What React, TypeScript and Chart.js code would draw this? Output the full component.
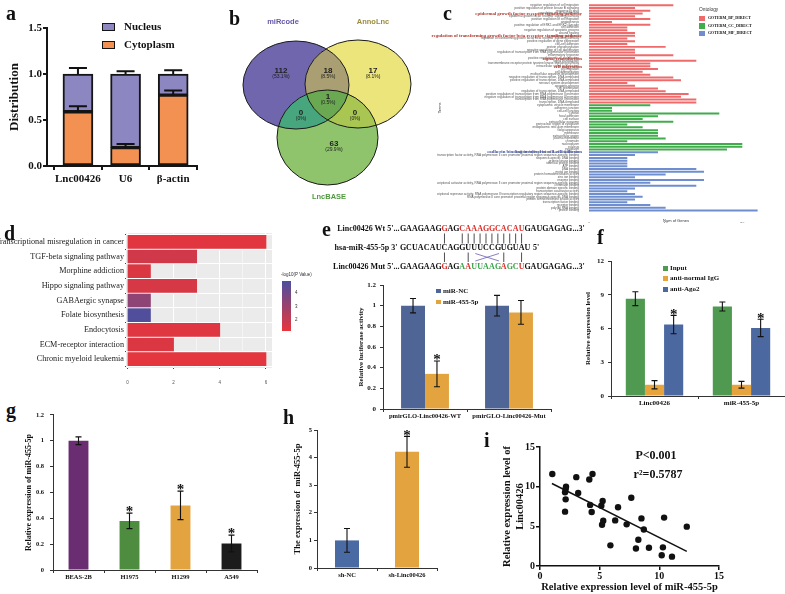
import React, { useEffect, useRef } from 'react';
import { Chart, registerables } from 'chart.js';

Chart.register(...registerables);

const SERIF = "'Liberation Serif', 'Times New Roman', Times, serif";
const SANS = "'Liberation Sans', Arial, Helvetica, sans-serif";

// ===================== DATA =====================
// (a) subcellular distribution
const aCategories = ['Lnc00426', 'U6', 'β-actin'];
const aCytoplasm = [0.59, 0.2, 0.77];
const aCytoplasmErr = [0.06, 0.04, 0.05];
const aNucleus = [0.41, 0.8, 0.23];
const aTotalErr = [0.065, 0.03, 0.04];

// (b) Venn
const vennSets = ['miRcode', 'AnnoLnc', 'LncBASE'];
// regions: A only, B only, C only, AB, AC, BC, ABC
const vennRegionCounts = [112, 17, 63, 18, 0, 0, 1];
const vennRegionPercents = ['53.1%', '8.1%', '29.9%', '8.5%', '0%', '0%', '0.5%'];

// (c) GO
const goOntologies = ['GOTERM_BP_DIRECT', 'GOTERM_CC_DIRECT', 'GOTERM_MF_DIRECT'];
const goBPTerms = [
  'negative regulation of cell migration',
  'positive regulation of protein kinase B signaling',
  'response to drug',
  'regulation of cell proliferation',
  'epidermal growth factor receptor signaling pathway',
  'positive regulation of cell migration',
  'angiogenesis',
  'positive regulation of ERK1 and ERK2 cascade',
  'cell adhesion',
  'negative regulation of apoptotic process',
  'wound healing',
  'response to hypoxia',
  'regulation of transforming growth factor beta receptor signaling pathway',
  'positive regulation of gene expression',
  'cell-cell adhesion',
  'protein phosphorylation',
  'negative regulation of cell proliferation',
  'regulation of transcription from RNA polymerase II promoter',
  'inflammatory response',
  'positive regulation of cell proliferation',
  'signal transduction',
  'transmembrane receptor protein tyrosine kinase signaling pathway',
  'intracellular signal transduction',
  'cell migration',
  'cell differentiation',
  'multicellular organism development',
  'negative regulation of transcription, DNA-templated',
  'positive regulation of transcription, DNA-templated',
  'nervous system development',
  'apoptotic process',
  'cell proliferation',
  'regulation of transcription, DNA-templated',
  'positive regulation of transcription from RNA polymerase II promoter',
  'negative regulation of transcription from RNA polymerase II promoter',
  'transcription from RNA polymerase II promoter',
  'transcription, DNA-templated',
];
const goBPCounts = [11, 6, 8, 7, 6, 8, 3, 8, 5, 5, 6, 6, 5, 6, 5, 10, 6, 6, 11, 6, 14, 8, 8, 9, 7, 8, 11, 12, 5, 6, 9, 10, 13, 12, 14, 14];
const goCCTerms = [
  'cytoplasmic vesicle membrane',
  'adherens junction',
  'cell-cell junction',
  'cytosol',
  'focal adhesion',
  'cell surface',
  'extracellular exosome',
  'perinuclear region of cytoplasm',
  'endoplasmic reticulum membrane',
  'Golgi apparatus',
  'membrane',
  'extracellular region',
  'plasma membrane',
  'chromatin',
  'nucleoplasm',
  'nucleus',
  'cytoplasm',
];
const goCCCounts = [8, 3, 3, 17, 9, 7, 11, 5, 7, 9, 9, 9, 10, 5, 20, 20, 18];
const goMFTerms = [
  'cadherin binding involved in cell-cell adhesion',
  'transcription factor activity, RNA polymerase II core promoter proximal region sequence-specific binding',
  'sequence-specific DNA binding',
  'protein kinase binding',
  'identical protein binding',
  'ATP binding',
  'DNA binding',
  'metal ion binding',
  'protein homodimerization activity',
  'zinc ion binding',
  'enzyme binding',
  'transcriptional activator activity, RNA polymerase II core promoter proximal region sequence-specific binding',
  'chromatin binding',
  'protein domain specific binding',
  'transcription coactivator activity',
  'transcriptional repressor activity, RNA polymerase II transcription regulatory region sequence-specific binding',
  'RNA polymerase II core promoter proximal region sequence-specific DNA binding',
  'protein serine/threonine kinase activity',
  'transcription factor binding',
  'receptor binding',
  'poly(A) RNA binding',
  'protein binding',
];
const goMFCounts = [9, 6, 5, 5, 5, 5, 14, 15, 10, 6, 15, 8, 14, 6, 5, 6, 7, 6, 5, 8, 10, 22];
const goHighlightBP = [
  'epidermal growth factor receptor signaling pathway',
  'regulation of transforming growth factor beta receptor signaling pathway',
  'signal transduction',
  'cell migration',
];
const goHighlightMF = ['cadherin binding involved in cell-cell adhesion'];

// (d) KEGG
const keggTerms = [
  'Transcriptional misregulation in cancer',
  'TGF-beta signaling pathway',
  'Morphine addiction',
  'Hippo signaling pathway',
  'GABAergic synapse',
  'Folate biosynthesis',
  'Endocytosis',
  'ECM-receptor interaction',
  'Chronic myeloid leukemia',
];
const keggCounts = [6, 3, 1, 3, 1, 1, 4, 2, 6];
const keggLogP = [1.35, 1.75, 1.5, 1.6, 3.3, 4.75, 1.4, 1.5, 1.3];
const keggBarTicks = [2, 3, 4];

// (e) luciferase
const eGroups = ['pmirGLO-Linc00426-WT', 'pmirGLO-Linc00426-Mut'];
const eSeries = ['miR-NC', 'miR-455-5p'];
const eMiRNC = [1.0, 1.0];
const eMiRNCErr = [0.07, 0.1];
const eMiR455 = [0.34, 0.935];
const eMiR455Err = [0.125, 0.115];
const eMiR455Star = [true, false];
const seqWtLabel = 'Linc00426 Wt';
const seqMiRLabel = 'hsa-miR-455-5p';
const seqMutLabel = 'Linc00426 Mut';
const seqWt = 'GAAGAAGGAGCAAAGGCACAUGAUGAGAG';
const seqMiR = 'GCUACAUCAGGUUUCCGUGUAU';
const seqMut = 'GAAGAAGGAGAAUUAAGAGCUGAUGAGAG';
const seqWtPairs = [7, 10, 11, 12, 13, 14, 15, 16, 17, 18, 19, 20];
const seqMutPairs = [7, 11, 17, 20];

// (f) RIP
const fGroups = ['Linc00426', 'miR-455-5p'];
const fSeries = ['Input', 'anti-normal IgG', 'anti-Ago2'];
const fInput = [8.65, 7.95];
const fInputErr = [0.62, 0.4];
const fIgG = [1.0, 1.0];
const fIgGErr = [0.37, 0.3];
const fAgo2 = [6.35, 6.05];
const fAgo2Err = [0.82, 0.77];
const fAgo2Star = [true, true];

// (g) cell lines
const gCells = ['BEAS-2B', 'H1975', 'H1299', 'A549'];
const gValues = [1.0, 0.38, 0.5, 0.205];
const gErrors = [0.03, 0.06, 0.11, 0.065];
const gStars = [false, true, true, true];

// (h) knockdown
const hGroups = ['sh-NC', 'sh-Linc00426'];
const hValues = [1.0, 4.21];
const hErrors = [0.43, 0.56];
const hStars = [false, true];

// (i) correlation
const iX = [1.03, 2.18, 2.15, 2.1, 2.15, 2.1, 3.04, 3.2, 4.13, 4.4, 4.2, 4.33, 5.14, 5.25, 5.3, 5.2, 6.3, 6.54, 5.9, 7.26, 7.65, 8.5, 8.7, 8.24, 8.04, 9.13, 10.4, 10.3, 10.2, 11.06, 12.3];
const iY = [11.6, 10.0, 9.7, 9.3, 8.4, 6.85, 11.2, 9.2, 10.9, 11.6, 7.7, 6.8, 7.6, 8.2, 5.7, 5.2, 5.75, 7.4, 2.6, 5.25, 8.6, 6.0, 4.6, 3.3, 2.2, 2.3, 6.1, 2.35, 1.35, 1.18, 4.96];
const iFitX = [1.0, 12.3];
const iFitY = [10.4, 1.85];
const iStats = ['P<0.001', 'r²=0.5787'];

// ===================== STYLE / LAYOUT =====================
const A_COLORS = ['#f39152', '#8c86c1'];
const VENN_FILL = ['#6f66ad', '#ebe57c', '#8fc46c'];
const VENN_PAIR_FILL = ['#aa9f72', '#47a67d', '#a8c651'];
const VENN_TRIPLE_FILL = '#6aa852';
const VENN_TITLE_COLORS = ['#6357a8', '#9a8c3c', '#4f9a3e'];
const VENN_CIRCLES = [
  { cx: 296, cy: 85, rx: 53, ry: 44 },
  { cx: 358, cy: 84, rx: 53, ry: 44 },
  { cx: 327.5, cy: 137.5, rx: 50.5, ry: 47.5 },
];
const VENN_LABEL_POS = [[281, 74], [373, 74], [334, 146.5], [328, 73.5], [301, 115.5], [355, 115.5], [328, 100]];
const VENN_TITLE_POS = [[283, 22], [373, 22], [329, 197]];
const GO_COLORS = ['#ef6a6a', '#41ac4b', '#6e8ed0'];
const KEGG_LOW = [232, 53, 59];
const KEGG_HIGH = [75, 79, 159];
const KEGG_MIN = 1.19;
const KEGG_MAX = 4.89;
const E_COLORS = ['#4f6595', '#e3a33e'];
const F_COLORS = ['#4f9a50', '#e8a43c', '#4b69a0'];
const G_COLORS = ['#6b2d72', '#4e8d40', '#e3a33e', '#1c1c1c'];
const H_COLORS = ['#4a6aa3', '#e3a33e'];
const RED = '#d9302c';
const GREEN = '#3aa44a';

function keggColor(v: number) {
  const t = Math.max(0, Math.min(1, (v - KEGG_MIN) / (KEGG_MAX - KEGG_MIN)));
  const c = KEGG_LOW.map((lo, k) => Math.round(lo + (KEGG_HIGH[k] - lo) * t));
  return `rgb(${c[0]},${c[1]},${c[2]})`;
}

const base: any = {
  responsive: true,
  maintainAspectRatio: false,
  animation: false,
  events: [],
};
const noLegend = { legend: { display: false }, tooltip: { enabled: false } };

// ---------- plugins ----------
const errorBars: any = {
  id: 'errorBars',
  afterDatasetsDraw(chart: any, _args: any, opts: any) {
    const ctx = chart.ctx;
    const cap = opts.cap ?? 3;
    const lw = opts.lineWidth ?? 1;
    const starSize = opts.starSize ?? 12;
    chart.data.datasets.forEach((ds: any, di: number) => {
      if (!ds.errors) return;
      const meta = chart.getDatasetMeta(di);
      const ys = chart.scales[meta.yAxisID];
      meta.data.forEach((el: any, i: number) => {
        const e = ds.errors[i];
        if (e == null) return;
        const v = ys.getValueForPixel(el.y);
        const yt = ys.getPixelForValue(v + e);
        const up = ds.errMode === 'up';
        const yb = up ? el.y : ys.getPixelForValue(v - e);
        ctx.save();
        ctx.strokeStyle = '#111';
        ctx.lineWidth = lw;
        ctx.beginPath();
        ctx.moveTo(el.x, yb);
        ctx.lineTo(el.x, yt);
        ctx.moveTo(el.x - cap, yt);
        ctx.lineTo(el.x + cap, yt);
        if (!up) {
          ctx.moveTo(el.x - cap, yb);
          ctx.lineTo(el.x + cap, yb);
        }
        ctx.stroke();
        if (ds.stars && ds.stars[i]) {
          ctx.fillStyle = '#111';
          ctx.font = `bold ${starSize}px ${SERIF}`;
          ctx.textAlign = 'center';
          ctx.textBaseline = 'alphabetic';
          ctx.fillText('*', el.x, yt + starSize * 0.22);
        }
        ctx.restore();
      });
    });
  },
};

const panelBg: any = {
  id: 'panelBg',
  beforeDraw(chart: any, _a: any, opts: any) {
    const { ctx, chartArea: c } = chart;
    ctx.save();
    ctx.fillStyle = opts.color || '#ebebeb';
    ctx.fillRect(c.left, c.top, c.right - c.left, c.bottom - c.top);
    ctx.restore();
  },
};

const vennPlugin: any = {
  id: 'venn',
  afterDatasetsDraw(chart: any) {
    const { ctx } = chart;
    const xs = chart.scales.x;
    const ys = chart.scales.y;
    const pts = chart.getDatasetMeta(0).data;
    const ell = VENN_CIRCLES.map((c, i) => ({
      cx: pts[i].x,
      cy: pts[i].y,
      rx: Math.abs(xs.getPixelForValue(c.cx + c.rx) - xs.getPixelForValue(c.cx)),
      ry: Math.abs(ys.getPixelForValue(c.cy + c.ry) - ys.getPixelForValue(c.cy)),
    }));
    const path = (e: any) => {
      ctx.beginPath();
      ctx.ellipse(e.cx, e.cy, e.rx, e.ry, 0, 0, Math.PI * 2);
    };
    ctx.save();
    ell.forEach((e, i) => {
      path(e);
      ctx.fillStyle = VENN_FILL[i];
      ctx.fill();
    });
    const pairs = [[0, 1], [0, 2], [1, 2]];
    pairs.forEach(([a, b], k) => {
      ctx.save();
      path(ell[a]);
      ctx.clip();
      path(ell[b]);
      ctx.fillStyle = VENN_PAIR_FILL[k];
      ctx.fill();
      ctx.restore();
    });
    ctx.save();
    path(ell[0]);
    ctx.clip();
    path(ell[1]);
    ctx.clip();
    path(ell[2]);
    ctx.fillStyle = VENN_TRIPLE_FILL;
    ctx.fill();
    ctx.restore();
    ell.forEach((e) => {
      path(e);
      ctx.strokeStyle = '#1a1a1a';
      ctx.lineWidth = 1;
      ctx.stroke();
    });
    ctx.textAlign = 'center';
    ctx.textBaseline = 'middle';
    vennRegionCounts.forEach((n, k) => {
      const px = xs.getPixelForValue(VENN_LABEL_POS[k][0]);
      const py = ys.getPixelForValue(VENN_LABEL_POS[k][1]);
      ctx.fillStyle = '#1e1e1e';
      ctx.font = `bold 8px ${SANS}`;
      ctx.fillText(String(n), px, py - 2.8);
      ctx.font = `5px ${SANS}`;
      ctx.fillText(`(${vennRegionPercents[k]})`, px, py + 2.8);
    });
    vennSets.forEach((s, k) => {
      ctx.fillStyle = VENN_TITLE_COLORS[k];
      ctx.font = `bold 7.5px ${SANS}`;
      ctx.fillText(s, xs.getPixelForValue(VENN_TITLE_POS[k][0]), ys.getPixelForValue(VENN_TITLE_POS[k][1]));
    });
    ctx.restore();
  },
};

// ---------- helpers ----------
const boldFont = (size: number) => ({ family: SERIF, weight: 'bold' as const, size });
const xlsY = (min: number, max: number, step: number, title: string, tsize: number, width: number, fsize: number, pad: number) => ({
  min,
  max,
  ticks: {
    stepSize: step,
    includeBounds: false,
    callback: (v: any) => String(Math.round(Number(v) * 10) / 10),
    font: boldFont(fsize),
    color: '#111',
    padding: pad,
  },
  grid: { drawOnChartArea: false, tickLength: 3, color: '#333', lineWidth: 1 },
  border: { color: '#333', width: 1 },
  title: { display: true, text: title, font: boldFont(tsize), color: '#111', padding: 0 },
  afterFit: (s: any) => {
    s.width = width;
  },
});
const xlsX = (fsize: number, height: number) => ({
  ticks: { font: boldFont(fsize), color: '#111', padding: 0, maxRotation: 0, autoSkip: false },
  grid: { drawOnChartArea: false, tickLength: 3, color: '#333', lineWidth: 1, offset: true },
  border: { color: '#333', width: 1 },
  afterFit: (s: any) => {
    s.height = height;
  },
});

// ---------- configs ----------
const cfgA = () => ({
  type: 'bar',
  data: {
    datasets: [
      {
        label: 'Cytoplasm',
        data: aCytoplasm.map((v, i) => ({ x: i, y: v })),
        backgroundColor: A_COLORS[0],
        borderColor: '#151515',
        borderWidth: 2,
        borderSkipped: false,
        barThickness: 30,
        errors: aCytoplasmErr,
        errMode: 'up',
      },
      {
        label: 'Nucleus',
        data: aNucleus.map((v, i) => ({ x: i, y: v })),
        backgroundColor: A_COLORS[1],
        borderColor: '#151515',
        borderWidth: 2,
        borderSkipped: false,
        barThickness: 30,
        errors: aTotalErr,
        errMode: 'up',
      },
    ],
  },
  options: {
    ...base,
    layout: { padding: { top: 18, right: 13, left: 0, bottom: 0 } },
    plugins: { ...noLegend, errorBars: { cap: 9, lineWidth: 2 } },
    scales: {
      x: {
        type: 'linear',
        stacked: true,
        offset: false,
        min: -0.65,
        max: 2.5,
        afterBuildTicks: (s: any) => {
          s.ticks = aCategories.map((_, i) => ({ value: i }));
        },
        ticks: {
          callback: (v: any) => aCategories[v],
          font: boldFont(11),
          color: '#111',
          padding: 3,
          maxRotation: 0,
          minRotation: 0,
          autoSkip: false,
        },
        grid: { drawOnChartArea: false, tickLength: 4, color: '#151515', lineWidth: 2 },
        border: { color: '#151515', width: 2 },
        afterFit: (s: any) => {
          s.height = 29;
        },
      },
      y: {
        stacked: true,
        min: 0,
        max: 1.5,
        ticks: { stepSize: 0.5, callback: (v: any) => Number(v).toFixed(1), font: boldFont(11), color: '#111', padding: 1 },
        grid: { drawOnChartArea: false, tickLength: 4, color: '#151515', lineWidth: 2 },
        border: { color: '#151515', width: 2 },
        title: { display: true, text: 'Distribution', font: boldFont(13), color: '#111', padding: 0 },
        afterFit: (s: any) => {
          s.width = 40;
        },
      },
    },
  },
  plugins: [errorBars],
});

const cfgB = () => ({
  type: 'scatter',
  data: { datasets: [{ data: VENN_CIRCLES.map((c) => ({ x: c.cx, y: c.cy })), pointRadius: 0 }] },
  options: {
    ...base,
    layout: { padding: 0 },
    plugins: noLegend,
    scales: {
      x: { display: false, min: 230, max: 420 },
      y: { display: false, min: 10, max: 210, reverse: true },
    },
  },
  plugins: [vennPlugin],
});

const goTerms = [...goBPTerms, ...goCCTerms, ...goMFTerms];
const goCounts = [...goBPCounts, ...goCCCounts, ...goMFCounts];
const goColors = [
  ...goBPTerms.map(() => GO_COLORS[0]),
  ...goCCTerms.map(() => GO_COLORS[1]),
  ...goMFTerms.map(() => GO_COLORS[2]),
];

const cfgC = () => ({
  type: 'bar',
  data: {
    labels: goTerms,
    datasets: [{ data: goCounts, backgroundColor: goColors, barPercentage: 0.72, categoryPercentage: 1 }],
  },
  options: {
    ...base,
    indexAxis: 'y',
    layout: { padding: { top: 1, right: 22, left: 0, bottom: 0 } },
    plugins: noLegend,
    scales: {
      y: {
        ticks: { autoSkip: false, font: { family: SANS, size: 3.1 }, color: '#555', padding: 2 },
        grid: { display: false },
        border: { display: false },
        title: { display: true, text: 'Terms', font: { family: SANS, size: 4 }, color: '#333', padding: 0 },
        afterFit: (s: any) => {
          s.width = 152;
        },
      },
      x: {
        min: 0,
        max: 22.7,
        ticks: { stepSize: 10, includeBounds: false, font: { family: SANS, size: 4 }, color: '#555', padding: 1 },
        grid: { display: false },
        border: { display: false },
        title: { display: true, text: 'Num of Genes', font: { family: SANS, size: 4 }, color: '#333', padding: 0 },
        afterFit: (s: any) => {
          s.height = 11;
        },
      },
    },
  },
});

const cfgD = () => ({
  type: 'bar',
  data: {
    datasets: [
      {
        data: keggCounts.map((v, i) => ({ x: v, y: i })),
        backgroundColor: keggLogP.map((p) => keggColor(p)),
        barThickness: 13,
      },
    ],
  },
  options: {
    ...base,
    indexAxis: 'y',
    layout: { padding: { top: 8, right: 28, left: 0, bottom: 0 } },
    plugins: { ...noLegend, panelBg: { color: '#ebebeb' } },
    scales: {
      y: {
        type: 'linear',
        reverse: true,
        offset: false,
        min: -0.6,
        max: 8.6,
        afterBuildTicks: (s: any) => {
          s.ticks = keggTerms.map((_, i) => ({ value: i }));
        },
        ticks: { callback: (v: any) => keggTerms[v], font: { family: SERIF, size: 8.2 }, color: '#222', padding: 1, autoSkip: false },
        grid: { color: '#ffffff', lineWidth: 1, tickLength: 1, tickColor: '#444' },
        border: { display: false },
        afterFit: (s: any) => {
          s.width = 126;
        },
      },
      x: {
        min: -0.06,
        max: 6.26,
        ticks: {
          stepSize: 1,
          includeBounds: false,
          callback: (v: any) => (Number(v) % 2 === 0 ? String(v) : ''),
          font: { family: SANS, size: 4.5 },
          color: '#555',
          padding: 11,
          maxRotation: 0,
        },
        grid: {
          color: '#ffffff',
          lineWidth: (c: any) => (c.tick && c.tick.value % 2 === 0 ? 1 : 0.5),
          tickLength: 1,
          tickColor: (c: any) => (c.tick && c.tick.value % 2 === 0 ? '#444' : 'rgba(0,0,0,0)'),
        },
        border: { display: false },
        afterFit: (s: any) => {
          s.height = 27;
        },
      },
    },
  },
  plugins: [panelBg],
});

const cfgE = () => ({
  type: 'bar',
  data: {
    labels: eGroups,
    datasets: [
      { label: eSeries[0], data: eMiRNC, errors: eMiRNCErr, backgroundColor: E_COLORS[0], categoryPercentage: 0.57, barPercentage: 1 },
      { label: eSeries[1], data: eMiR455, errors: eMiR455Err, stars: eMiR455Star, backgroundColor: E_COLORS[1], categoryPercentage: 0.57, barPercentage: 1 },
    ],
  },
  options: {
    ...base,
    layout: { padding: { top: 13, right: 39, left: 0, bottom: 0 } },
    plugins: { ...noLegend, errorBars: { cap: 3, lineWidth: 1.1, starSize: 15 } },
    scales: {
      x: xlsX(6.5, 16),
      y: xlsY(0, 1.2, 0.2, 'Relative luciferase activity', 7, 26, 7, 4),
    },
  },
  plugins: [errorBars],
});

const cfgF = () => ({
  type: 'bar',
  data: {
    labels: fGroups,
    datasets: [
      { label: fSeries[0], data: fInput, errors: fInputErr, backgroundColor: F_COLORS[0], categoryPercentage: 0.66, barPercentage: 1 },
      { label: fSeries[1], data: fIgG, errors: fIgGErr, backgroundColor: F_COLORS[1], categoryPercentage: 0.66, barPercentage: 1 },
      { label: fSeries[2], data: fAgo2, errors: fAgo2Err, stars: fAgo2Star, backgroundColor: F_COLORS[2], categoryPercentage: 0.66, barPercentage: 1 },
    ],
  },
  options: {
    ...base,
    layout: { padding: { top: 11, right: 0, left: 0, bottom: 0 } },
    plugins: { ...noLegend, errorBars: { cap: 3, lineWidth: 1.1, starSize: 15 } },
    scales: {
      x: xlsX(7, 14),
      y: xlsY(0, 12, 3, 'Relative expression level', 7, 27, 7, 4),
    },
  },
  plugins: [errorBars],
});

const cfgG = () => ({
  type: 'bar',
  data: {
    labels: gCells,
    datasets: [
      { data: gValues, errors: gErrors, stars: gStars, backgroundColor: G_COLORS, categoryPercentage: 1, barPercentage: 0.39 },
    ],
  },
  options: {
    ...base,
    layout: { padding: { top: 5, right: 8, left: 0, bottom: 0 } },
    plugins: { ...noLegend, errorBars: { cap: 3, lineWidth: 1.1, starSize: 15 } },
    scales: {
      x: xlsX(6.5, 17),
      y: xlsY(0, 1.2, 0.2, 'Relative expression of miR-455-5p', 8, 29, 6.5, 6),
    },
  },
  plugins: [errorBars],
});

const cfgH = () => ({
  type: 'bar',
  data: {
    labels: hGroups,
    datasets: [
      { data: hValues, errors: hErrors, stars: hStars, backgroundColor: H_COLORS, categoryPercentage: 1, barPercentage: 0.4 },
    ],
  },
  options: {
    ...base,
    layout: { padding: { top: 7, right: 8, left: 0, bottom: 0 } },
    plugins: { ...noLegend, errorBars: { cap: 3, lineWidth: 1.1, starSize: 15 } },
    scales: {
      x: xlsX(6.5, 17),
      y: xlsY(0, 5, 1, 'The expression of  miR-455-5p', 8.5, 24, 6.5, 2),
    },
  },
  plugins: [errorBars],
});

const cfgI = () => ({
  type: 'scatter',
  data: {
    datasets: [
      {
        type: 'scatter',
        data: iX.map((x, k) => ({ x, y: iY[k] })),
        pointRadius: 3.2,
        backgroundColor: '#111',
        borderWidth: 0,
      },
      {
        type: 'line',
        data: iFitX.map((x, k) => ({ x, y: iFitY[k] })),
        borderColor: '#111',
        borderWidth: 1.5,
        pointRadius: 0,
        fill: false,
      },
    ],
  },
  options: {
    ...base,
    layout: { padding: { top: 7, right: 10, left: 0, bottom: 0 } },
    plugins: noLegend,
    scales: {
      x: {
        type: 'linear',
        min: 0,
        max: 15,
        ticks: { stepSize: 5, font: boldFont(10), color: '#111', padding: 0 },
        grid: { drawOnChartArea: false, tickLength: 4, color: '#111', lineWidth: 1.5 },
        border: { color: '#111', width: 1.5 },
        title: { display: true, text: 'Relative expression level of miR-455-5p', font: boldFont(10.5), color: '#111', padding: 0 },
        afterFit: (s: any) => {
          s.height = 28;
        },
      },
      y: {
        min: 0,
        max: 15,
        ticks: { stepSize: 5, font: boldFont(10), color: '#111', padding: 1 },
        grid: { drawOnChartArea: false, tickLength: 4, color: '#111', lineWidth: 1.5 },
        border: { color: '#111', width: 1.5 },
        title: {
          display: true,
          text: ['Relative expression level of', 'Linc00426'],
          font: { family: SERIF, weight: 'bold', size: 10.5, lineHeight: 1.3 },
          color: '#111',
          padding: 0,
        },
        afterFit: (s: any) => {
          s.width = 40;
        },
      },
    },
  },
});

// ===================== COMPONENTS =====================
function ChartBox({ x, y, w, h, make }: any) {
  const ref = useRef<HTMLCanvasElement | null>(null);
  useEffect(() => {
    if (!ref.current) return;
    const chart = new Chart(ref.current, make());
    return () => chart.destroy();
  }, []);
  return (
    <div style={{ position: 'absolute', left: x, top: y, width: w, height: h }}>
      <canvas ref={ref} />
    </div>
  );
}

function Txt({ x, y, size, children, bold = true, color = '#111', align = 'left', family = SERIF }: any) {
  const tx = align === 'center' ? '-50%' : align === 'right' ? '-100%' : '0';
  return (
    <div
      style={{
        position: 'absolute',
        left: x,
        top: y - size * 0.6,
        fontSize: size,
        lineHeight: `${size * 1.2}px`,
        fontFamily: family,
        fontWeight: bold ? 'bold' : 'normal',
        color,
        whiteSpace: 'pre',
        transform: `translateX(${tx})`,
      }}
    >
      {children}
    </div>
  );
}

function Letter({ ch, x, base: b }: any) {
  return (
    <div
      style={{
        position: 'absolute',
        left: x,
        top: b - 16.75,
        fontFamily: SERIF,
        fontWeight: 'bold',
        fontSize: 20,
        lineHeight: '20px',
        color: '#111',
      }}
    >
      {ch}
    </div>
  );
}

const SEQ_X0 = 400;
const SEQ_P = 5.93;
const SEQ_FONT = 8;

function SeqRow({ y, label, prime, seq, colorOf, suffix }: any) {
  const common: any = {
    position: 'absolute',
    top: y - 5,
    fontFamily: SERIF,
    fontWeight: 'bold',
    fontSize: SEQ_FONT,
    lineHeight: '10px',
    whiteSpace: 'pre',
  };
  return (
    <>
      <div style={{ ...common, right: 785 - (SEQ_X0 - 0.5), color: '#111' }}>{`${label} ${prime}`}</div>
      {seq.split('').map((ch: string, i: number) => (
        <span key={i} style={{ ...common, left: SEQ_X0 + i * SEQ_P, width: SEQ_P, textAlign: 'center', color: colorOf(i) }}>
          {ch}
        </span>
      ))}
      <div style={{ ...common, left: SEQ_X0 + seq.length * SEQ_P + 0.5, color: '#111' }}>{suffix}</div>
    </>
  );
}

const seqX = (i: number) => SEQ_X0 + (i + 0.5) * SEQ_P;

function SwatchLegend({ x, y, gap, names, colors, fsize, sw = 5, sh = 5, border = 'none', textDx = 7 }: any) {
  return (
    <>
      {names.map((n: string, k: number) => (
        <React.Fragment key={n}>
          <div
            style={{
              position: 'absolute',
              left: x,
              top: y + k * gap - sh / 2,
              width: sw,
              height: sh,
              background: colors[k],
              border,
              boxSizing: 'border-box',
            }}
          />
          <Txt x={x + textDx} y={y + k * gap} size={fsize}>
            {n}
          </Txt>
        </React.Fragment>
      ))}
    </>
  );
}

export default function App() {
  const kpx = (v: number) => 331 - ((v - KEGG_MIN) / (KEGG_MAX - KEGG_MIN)) * 50;
  return (
    <div
      style={{
        position: 'absolute',
        left: 0,
        top: 0,
        width: 785,
        height: 594,
        background: '#ffffff',
        overflow: 'hidden',
        fontFamily: SERIF,
      }}
    >
      {/* charts */}
      <ChartBox x={7} y={10} w={203} h={185} make={cfgA} />
      <ChartBox x={230} y={10} w={190} h={200} make={cfgB} />
      <ChartBox x={437} y={0} w={348} h={223} make={cfgC} />
      <ChartBox x={0} y={225} w={300} h={170} make={cfgD} />
      <ChartBox x={357} y={272} w={233} h={153} make={cfgE} />
      <ChartBox x={584} y={250} w={201} h={160} make={cfgF} />
      <ChartBox x={24} y={405} w={241} h={182} make={cfgG} />
      <ChartBox x={293} y={423} w={152} h={162} make={cfgH} />
      <ChartBox x={500} y={440} w={229} h={154} make={cfgI} />

      {/* panel letters */}
      <Letter ch="a" x={6} base={20} />
      <Letter ch="b" x={229} base={25} />
      <Letter ch="c" x={443} base={19.5} />
      <Letter ch="d" x={4} base={240} />
      <Letter ch="e" x={322} base={236} />
      <Letter ch="f" x={597} base={244} />
      <Letter ch="g" x={6} base={417} />
      <Letter ch="h" x={283} base={424} />
      <Letter ch="i" x={484} base={447} />

      {/* (a) legend */}
      <SwatchLegend
        x={102}
        y={27}
        gap={17.7}
        names={['Nucleus', 'Cytoplasm']}
        colors={[A_COLORS[1], A_COLORS[0]]}
        fsize={11}
        sw={13}
        sh={8}
        border="1.5px solid #151515"
        textDx={22}
      />

      {/* (c) legend + highlighted terms */}
      <Txt x={699} y={10} size={4.8} bold={false} family={SANS} color="#333">
        Ontology
      </Txt>
      <SwatchLegend x={699} y={18.5} gap={7.4} names={goOntologies} colors={GO_COLORS} fsize={4} sw={6} sh={5.5} textDx={9} />
      {goHighlightBP.map((t) => {
        const idx = goTerms.indexOf(t);
        return (
          <Txt key={t} x={582} y={(idx + 0.5) * (211 / goTerms.length) + 1} size={4.8} align="right" color="#b03a2e">
            {t}
          </Txt>
        );
      })}
      {goHighlightMF.map((t) => {
        const idx = goTerms.indexOf(t);
        return (
          <Txt key={t} x={582} y={(idx + 0.5) * (211 / goTerms.length) + 1} size={4.8} align="right" color="#3f4fa0">
            {t}
          </Txt>
        );
      })}

      {/* (d) colour bar */}
      <Txt x={281} y={275} size={4.5} bold={false} family={SANS} color="#333">
        -log10(P Value)
      </Txt>
      <div
        style={{
          position: 'absolute',
          left: 282,
          top: 281,
          width: 9,
          height: 50,
          background: `linear-gradient(to bottom, rgb(${KEGG_HIGH.join(',')}), rgb(${KEGG_LOW.join(',')}))`,
        }}
      />
      {keggBarTicks.map((t) => (
        <Txt key={t} x={295} y={kpx(t)} size={4.5} bold={false} family={SANS} color="#333">
          {String(t)}
        </Txt>
      ))}

      {/* (e) sequences */}
      <SeqRow
        y={229}
        label={seqWtLabel}
        prime="5'..."
        seq={seqWt}
        suffix="...3'"
        colorOf={(i: number) => (seqWtPairs.includes(i) ? RED : '#111')}
      />
      <SeqRow y={248} label={seqMiRLabel} prime="3' " seq={seqMiR} suffix=" 5'" colorOf={() => '#111'} />
      <SeqRow
        y={266.5}
        label={seqMutLabel}
        prime="5'..."
        seq={seqMut}
        suffix="...3'"
        colorOf={(i: number) => (seqMutPairs.includes(i) ? RED : i >= 10 && i <= 20 ? GREEN : '#111')}
      />
      <svg style={{ position: 'absolute', left: 0, top: 0, width: 785, height: 594, pointerEvents: 'none' }}>
        {seqWtPairs.map((i) => (
          <line key={`w${i}`} x1={seqX(i)} x2={seqX(i)} y1={233.5} y2={243.5} stroke="#222" strokeWidth={0.8} />
        ))}
        {seqMutPairs.map((i) => (
          <line key={`m${i}`} x1={seqX(i)} x2={seqX(i)} y1={252.5} y2={262} stroke="#222" strokeWidth={0.8} />
        ))}
        <line x1={seqX(12.2)} x2={seqX(16.2)} y1={253.5} y2={261} stroke="#6a5fb0" strokeWidth={0.8} />
        <line x1={seqX(12.2)} x2={seqX(16.2)} y1={261} y2={253.5} stroke="#6a5fb0" strokeWidth={0.8} />
      </svg>
      <SwatchLegend x={436} y={291} gap={11} names={eSeries} colors={E_COLORS} fsize={7} sw={4.5} sh={4} textDx={7} />

      {/* (f) legend */}
      <SwatchLegend x={663} y={268} gap={10.5} names={fSeries} colors={F_COLORS} fsize={7} sw={5} sh={5} textDx={7} />

      {/* (i) stats */}
      <Txt x={656} y={455} size={12} align="center">
        {iStats[0]}
      </Txt>
      <Txt x={658} y={474} size={12} align="center">
        {iStats[1]}
      </Txt>
    </div>
  );
}
